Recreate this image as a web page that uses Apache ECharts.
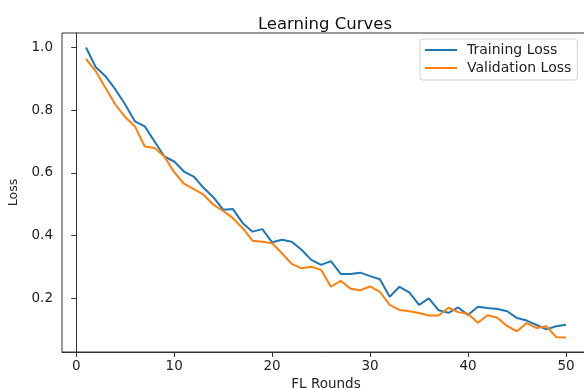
<!DOCTYPE html>
<html>
<head>
<meta charset="utf-8">
<script src="https://cdn.jsdelivr.net/npm/echarts@6/dist/echarts.min.js"></script>
<style>
  html, body { margin: 0; padding: 0; background: #fff; }
  #chart { width: 584px; height: 388px; }
</style>
</head>
<body>
<div id="chart"></div>
<script>
const rounds = Array.from({ length: 50 }, (_, i) => i + 1);

const trainingLoss = [
  1.0, 0.937, 0.908, 0.866, 0.818, 0.764, 0.748, 0.700, 0.652, 0.636,
  0.604, 0.588, 0.552, 0.522, 0.482, 0.484, 0.439, 0.412, 0.420, 0.378,
  0.386, 0.380, 0.354, 0.322, 0.306, 0.318, 0.277, 0.277, 0.281, 0.270,
  0.260, 0.204, 0.236, 0.218, 0.178, 0.199, 0.161, 0.153, 0.170, 0.146,
  0.172, 0.168, 0.165, 0.158, 0.136, 0.128, 0.114, 0.100, 0.110, 0.115
];

const validationLoss = [
  0.964, 0.924, 0.871, 0.818, 0.778, 0.748, 0.684, 0.679, 0.652, 0.602,
  0.565, 0.548, 0.530, 0.498, 0.478, 0.455, 0.423, 0.383, 0.380, 0.375,
  0.343, 0.309, 0.295, 0.300, 0.290, 0.236, 0.255, 0.230, 0.225, 0.237,
  0.220, 0.178, 0.162, 0.158, 0.152, 0.144, 0.144, 0.169, 0.155, 0.150,
  0.121, 0.145, 0.137, 0.110, 0.094, 0.120, 0.104, 0.110, 0.075, 0.074
];

const xTicks = [0, 10, 20, 30, 40, 50];
const yTicks = [0.2, 0.4, 0.6, 0.8, 1.0];

const chart = echarts.init(document.getElementById('chart'));

const font = 'DejaVu Sans';
const axisColor = '#333';
const textColor = '#222';

const option = {
  animation: false,
  backgroundColor: '#fff',
  title: {
    text: 'Learning Curves',
    left: 320,
    top: 11,
    textAlign: 'center',
    textStyle: { fontFamily: font, fontSize: 16.5, fontWeight: 'normal', color: '#111' }
  },
  legend: {
    orient: 'vertical',
    left: 420,
    top: 39,
    padding: [3, 6, 4, 4],
    itemGap: 2,
    itemWidth: 32,
    itemHeight: 2,
    borderColor: '#d0d0d0',
    borderWidth: 1,
    borderRadius: 3,
    textStyle: { fontFamily: font, fontSize: 14, lineHeight: 16, color: textColor, padding: [0, 0, 0, 5] },
    data: ['Training Loss', 'Validation Loss']
  },
  grid: {
    left: 62,
    top: 33,
    width: 528,
    height: 319,
    outerBoundsMode: 'none',
    containLabel: false,
    show: true,
    borderColor: axisColor,
    borderWidth: 1
  },
  xAxis: {
    type: 'value',
    min: -1.45,
    max: 52.45,
    name: 'FL Rounds',
    nameLocation: 'middle',
    nameGap: 24,
    nameTextStyle: { fontFamily: font, fontSize: 13.5, color: textColor },
    axisLine: { show: true, lineStyle: { color: axisColor } },
    axisTick: { show: true, length: 5, customValues: xTicks, lineStyle: { color: axisColor } },
    axisLabel: { customValues: xTicks, fontFamily: font, fontSize: 13.5, color: textColor, margin: 7 },
    splitLine: { show: false }
  },
  yAxis: {
    type: 'value',
    min: 0.0277,
    max: 1.0463,
    name: 'Loss',
    nameLocation: 'middle',
    nameGap: 41,
    nameTextStyle: { fontFamily: font, fontSize: 12.5, color: textColor },
    axisLine: { show: true, lineStyle: { color: axisColor } },
    axisTick: { show: true, length: 5, customValues: yTicks, lineStyle: { color: axisColor } },
    axisLabel: {
      customValues: yTicks,
      fontFamily: font,
      fontSize: 13.5,
      color: textColor,
      margin: 9,
      formatter: (v) => v.toFixed(1)
    },
    splitLine: { show: false }
  },
  series: [
    {
      name: 'Training Loss',
      type: 'line',
      symbol: 'none',
      color: '#1f77b4',
      lineStyle: { width: 2 },
      data: rounds.map((r, i) => [r, trainingLoss[i]])
    },
    {
      name: 'Validation Loss',
      type: 'line',
      symbol: 'none',
      color: '#ff7f0e',
      lineStyle: { width: 2 },
      data: rounds.map((r, i) => [r, validationLoss[i]])
    }
  ]
};

chart.setOption(option);
</script>
</body>
</html>
